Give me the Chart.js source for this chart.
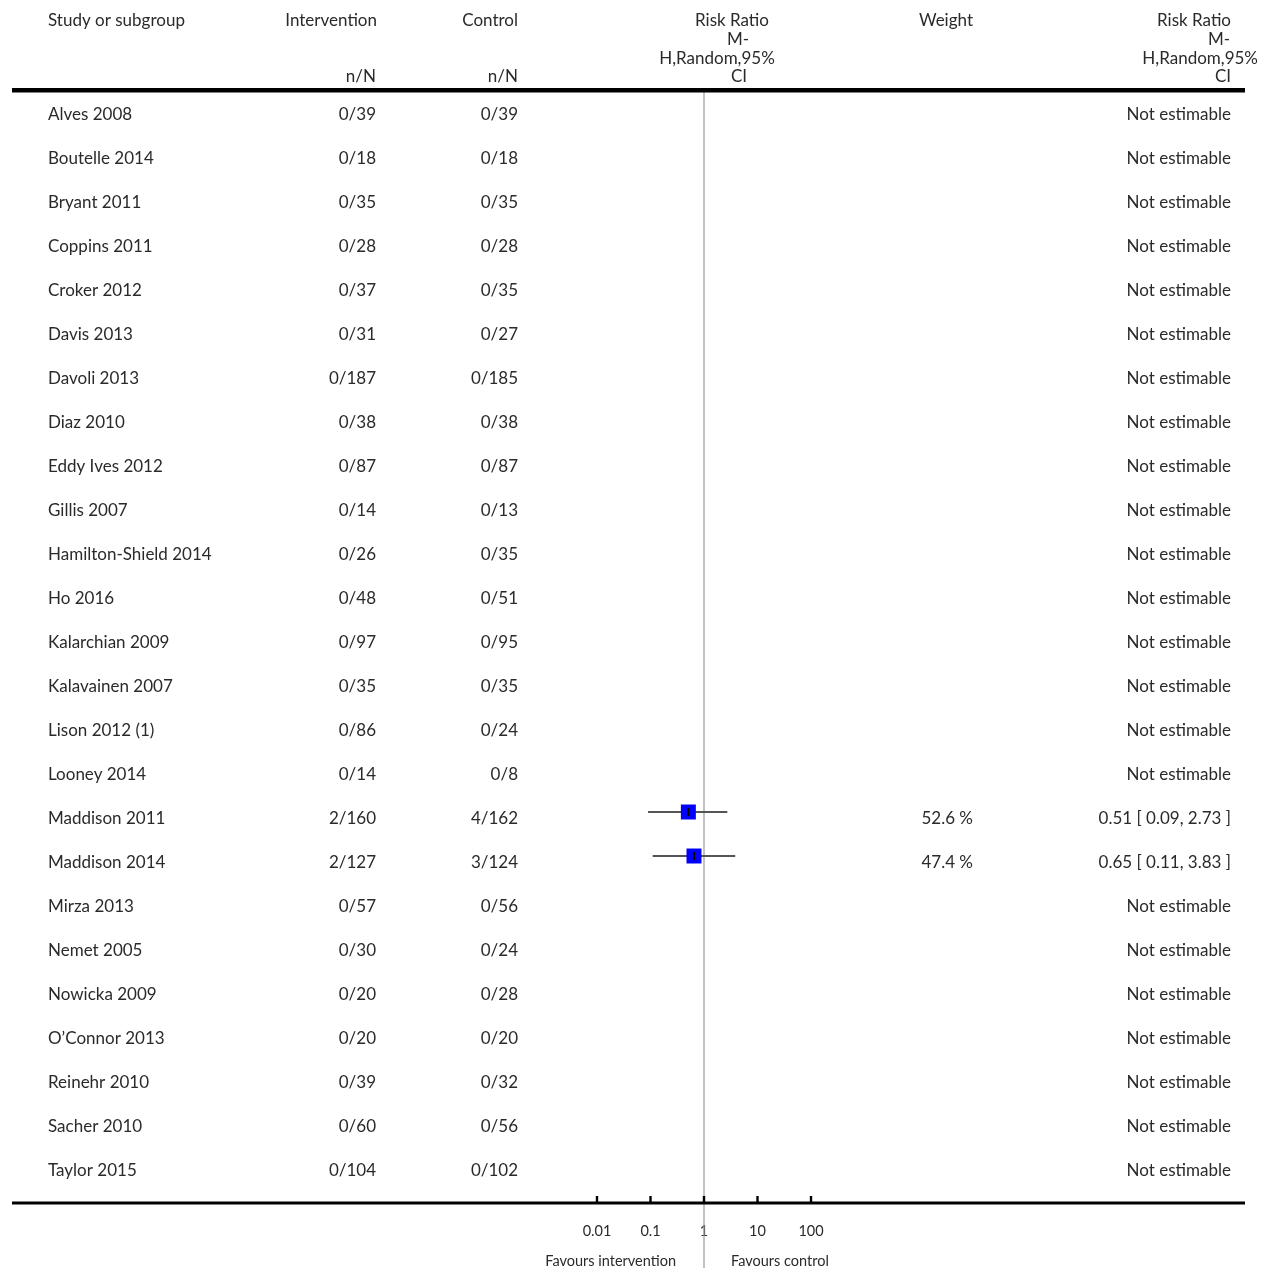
<!DOCTYPE html>
<html>
<head>
<meta charset="utf-8">
<script src="https://cdn.jsdelivr.net/npm/chart.js@4"></script>
<style>
  body { margin: 0; background: #fff; }
  canvas { display: block; }
</style>
</head>
<body>
<canvas id="forest" width="1272" height="1268"></canvas>
<script>
// study rows, top to bottom
let studies = ["Alves 2008", "Boutelle 2014", "Bryant 2011", "Coppins 2011", "Croker 2012",
  "Davis 2013", "Davoli 2013", "Diaz 2010", "Eddy Ives 2012", "Gillis 2007",
  "Hamilton-Shield 2014", "Ho 2016", "Kalarchian 2009", "Kalavainen 2007", "Lison 2012 (1)",
  "Looney 2014", "Maddison 2011", "Maddison 2014", "Mirza 2013", "Nemet 2005",
  "Nowicka 2009", "O\u2019Connor 2013", "Reinehr 2010", "Sacher 2010", "Taylor 2015"];
let intEvents = [0,0,0,0,0, 0,0,0,0,0, 0,0,0,0,0, 0,2,2,0,0, 0,0,0,0,0];
let intTotal = [39,18,35,28,37, 31,187,38,87,14, 26,48,97,35,86, 14,160,127,57,30, 20,20,39,60,104];
let ctrlEvents = [0,0,0,0,0, 0,0,0,0,0, 0,0,0,0,0, 0,4,3,0,0, 0,0,0,0,0];
let ctrlTotal = [39,18,35,28,35, 27,185,38,87,13, 35,51,95,35,24, 8,162,124,56,24, 28,20,32,56,102];
let weights = [null,null,null,null,null, null,null,null,null,null, null,null,null,null,null,
  null,52.6,47.4,null,null, null,null,null,null,null];
let rr = [null,null,null,null,null, null,null,null,null,null, null,null,null,null,null,
  null,0.51,0.65,null,null, null,null,null,null,null];
let ciLow = [null,null,null,null,null, null,null,null,null,null, null,null,null,null,null,
  null,0.09,0.11,null,null, null,null,null,null,null];
let ciHigh = [null,null,null,null,null, null,null,null,null,null, null,null,null,null,null,
  null,2.73,3.83,null,null, null,null,null,null,null];
let xTicks = [0.01, 0.1, 1, 10, 100];

const FAMILY = 'Lato, "Open Sans", sans-serif';
const FONT = '17px ' + FAMILY;
const TXT = '#2a2a2a';

let points = [];
let datasets = [];
for (let i = 0; i < studies.length; i++) {
  if (rr[i] == null) continue;
  points.push({x: rr[i], y: i});
  datasets.push({
    type: 'line',
    data: [{x: ciLow[i], y: i}, {x: ciHigh[i], y: i}],
    borderColor: '#555',
    borderWidth: 2,
    pointRadius: 0,
    order: 2
  });
}
datasets.push({
  type: 'scatter',
  data: points,
  pointStyle: 'rect',
  pointRadius: 10.6,
  backgroundColor: '#0000ff',
  borderWidth: 0,
  order: 1
});

function rrText(i) {
  if (rr[i] == null) return 'Not estimable';
  return rr[i].toFixed(2) + ' [ ' + ciLow[i].toFixed(2) + ', ' + ciHigh[i].toFixed(2) + ' ]';
}

let tablePlugin = {
  id: 'table',
  beforeDatasetsDraw(chart) {
    let ctx = chart.ctx;
    let x1 = chart.scales.x.getPixelForValue(1);
    ctx.save();
    // line of no effect
    ctx.strokeStyle = '#999';
    ctx.lineWidth = 1.2;
    ctx.beginPath();
    ctx.moveTo(x1, 92);
    ctx.lineTo(x1, 1268);
    ctx.stroke();
    ctx.restore();
  },
  afterDatasetsDraw(chart) {
    let ctx = chart.ctx;
    let xs = chart.scales.x;
    let ys = chart.scales.y;
    ctx.save();
    ctx.fillStyle = TXT;
    ctx.font = FONT;
    ctx.textBaseline = 'middle';

    // header
    ctx.textAlign = 'left';
    ctx.fillText('Study or subgroup', 48, 21);
    ctx.textAlign = 'right';
    ctx.fillText('Intervention', 377, 21);
    ctx.fillText('Control', 518, 21);
    ctx.fillText('n/N', 376, 77);
    ctx.fillText('n/N', 518, 77);
    ctx.fillText('Weight', 973, 21);
    ctx.textAlign = 'center';
    ctx.fillText('Risk Ratio', 732, 21);
    ctx.fillText('M-', 738, 40);
    ctx.fillText('H,Random,95%', 717, 59);
    ctx.fillText('CI', 739, 77);
    ctx.textAlign = 'right';
    ctx.fillText('Risk Ratio', 1231, 21);
    ctx.fillText('M-', 1230, 40);
    ctx.fillText('H,Random,95%', 1258, 59);
    ctx.fillText('CI', 1231, 77);

    // rows (text sits a little below the marks)
    studies.forEach(function(s, i) {
      let y = ys.getPixelForValue(i) + 6.5;
      ctx.textAlign = 'left';
      ctx.fillText(s, 48, y);
      ctx.textAlign = 'right';
      ctx.fillText(intEvents[i] + '/' + intTotal[i], 376, y);
      ctx.fillText(ctrlEvents[i] + '/' + ctrlTotal[i], 518, y);
      if (weights[i] != null) ctx.fillText(weights[i].toFixed(1) + ' %', 973, y);
      ctx.fillText(rrText(i), 1231, y);
    });

    // point estimate marks inside squares
    ctx.strokeStyle = '#000';
    ctx.lineWidth = 2;
    for (let i = 0; i < studies.length; i++) {
      if (rr[i] == null) continue;
      let px = xs.getPixelForValue(rr[i]);
      let py = ys.getPixelForValue(i);
      ctx.beginPath();
      ctx.moveTo(px, py - 4);
      ctx.lineTo(px, py + 4);
      ctx.stroke();
    }

    // table rules
    ctx.fillStyle = '#000';
    ctx.fillRect(12, 88, 1233, 4.5);
    let axisY = chart.chartArea.bottom;
    ctx.fillRect(12, axisY - 1.5, 1233, 3);
    xTicks.forEach(function(t) {
      let px = xs.getPixelForValue(t);
      ctx.fillRect(px - 1.2, axisY - 7, 2.4, 7);
    });

    ctx.fillStyle = TXT;
    ctx.font = '14.5px ' + FAMILY;
    let x1 = xs.getPixelForValue(1);
    ctx.textAlign = 'right';
    ctx.fillText('Favours intervention', x1 - 28, 1261);
    ctx.textAlign = 'left';
    ctx.fillText('Favours control', x1 + 27, 1261);
    ctx.restore();
  }
};

new Chart(document.getElementById('forest'), {
  data: { datasets: datasets },
  plugins: [tablePlugin],
  options: {
    responsive: false,
    animation: false,
    maintainAspectRatio: false,
    layout: { padding: { left: 597, right: 461, top: 91, bottom: 0 } },
    plugins: { legend: { display: false }, tooltip: { enabled: false } },
    scales: {
      x: {
        type: 'logarithmic',
        min: 0.01,
        max: 100,
        afterBuildTicks: function(s) { s.ticks = xTicks.map(v => ({value: v})); },
        afterFit: function(s) { s.height = 65; },
        grid: { display: false, drawTicks: false },
        border: { display: false },
        ticks: {
          padding: 20,
          color: TXT,
          font: { family: FAMILY, size: 14.5 },
          maxRotation: 0,
          autoSkip: false,
          callback: function(v) { return String(v); }
        }
      },
      y: {
        type: 'linear',
        display: false,
        reverse: true,
        min: -0.386,
        max: 24.886
      }
    }
  }
});
</script>
</body>
</html>
